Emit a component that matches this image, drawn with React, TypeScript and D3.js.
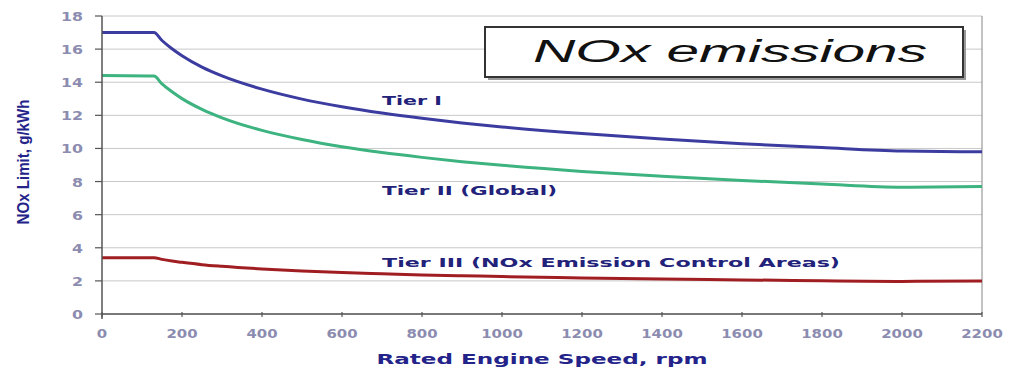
import React from "react";
import * as d3 from "d3";

const rpm = [0, 130, 150, 175, 200, 250, 300, 400, 500, 600, 700, 800, 900, 1000, 1200, 1400, 1600, 1800, 2000, 2200];
const tierI = [17.0, 17.0, 16.52, 16.02, 15.6, 14.91, 14.38, 13.58, 12.98, 12.52, 12.14, 11.82, 11.54, 11.3, 10.9, 10.57, 10.29, 10.05, 9.84, 9.8];
const tierII = [14.4, 14.37, 13.9, 13.42, 13.01, 12.36, 11.85, 11.09, 10.54, 10.1, 9.75, 9.46, 9.2, 8.98, 8.61, 8.32, 8.07, 7.85, 7.66, 7.7];
const tierIII = [3.4, 3.4, 3.3, 3.2, 3.12, 2.98, 2.88, 2.72, 2.6, 2.5, 2.43, 2.36, 2.31, 2.26, 2.18, 2.11, 2.06, 2.01, 1.97, 2.0];
const xTicks = [0, 200, 400, 600, 800, 1000, 1200, 1400, 1600, 1800, 2000, 2200];
const yTicks = [0, 2, 4, 6, 8, 10, 12, 14, 16, 18];
const seriesNames = ["Tier I", "Tier II (Global)", "Tier III (NOx Emission Control Areas)"];

export default function App() {
  const W = 1010, H = 368;
  const x = d3.scaleLinear().domain([0, 2200]).range([102, 982]);
  const y = d3.scaleLinear().domain([0, 18]).range([314, 16]);
  const line = d3.line<[number, number]>().x(d => x(d[0])).y(d => y(d[1])).curve(d3.curveMonotoneX);
  const series = [
    { vals: tierI, color: "#3c3ca0" },
    { vals: tierII, color: "#3db380" },
    { vals: tierIII, color: "#a01e22" },
  ];
  const labelPos = [
    { lx: 382, ly: 105, w: 60 },
    { lx: 382, ly: 195, w: 175 },
    { lx: 382, ly: 267, w: 458 },
  ];
  const tickColor = "#8c8cb0";
  return (
    <svg width={W} height={H} style={{ position: "absolute", left: 0, top: 0, background: "#fff" }}>
      <rect x={0} y={0} width={W} height={H} fill="#fff" />
      {yTicks.map(t => (
        <line key={"g" + t} x1={x(0)} x2={x(2200)} y1={y(t)} y2={y(t)} stroke="#c8c8c8" strokeWidth={1} />
      ))}
      <line x1={x(2200)} x2={x(2200)} y1={y(0)} y2={y(18)} stroke="#999" strokeWidth={1.2} />
      {series.map((s, i) => (
        <path key={i} d={line(rpm.map((r, j) => [r, s.vals[j]] as [number, number])) || ""} fill="none" stroke={s.color} strokeWidth={3} />
      ))}
      <line x1={x(0)} x2={x(0)} y1={y(0) + 5} y2={y(18)} stroke="#555" strokeWidth={1.5} />
      <line x1={x(0)} x2={x(2200)} y1={y(0)} y2={y(0)} stroke="#555" strokeWidth={1.5} />
      {yTicks.map(t => (
        <g key={"yt" + t}>
          <line x1={x(0) - 7} x2={x(0)} y1={y(t)} y2={y(t)} stroke="#555" strokeWidth={1.2} />
          <text x={83} y={y(t) + 5} textAnchor="end" fontFamily="DejaVu Sans" fontWeight="bold" fontSize={13}
            fill={tickColor} textLength={t >= 10 ? 22 : 11} lengthAdjust="spacingAndGlyphs">{t}</text>
        </g>
      ))}
      {xTicks.map(t => (
        <g key={"xt" + t}>
          <line x1={x(t)} x2={x(t)} y1={y(0) - 2} y2={y(0) + 3} stroke="#555" strokeWidth={1.2} />
          <text x={x(t)} y={338} textAnchor="middle" fontFamily="DejaVu Sans" fontWeight="bold" fontSize={13}
            fill={tickColor} textLength={String(t).length * 10.4} lengthAdjust="spacingAndGlyphs">{t}</text>
        </g>
      ))}
      <text x={x(1100)} y={364} textAnchor="middle" fontFamily="DejaVu Sans" fontWeight="bold" fontSize={14}
        fill="#23238a" textLength={331} lengthAdjust="spacingAndGlyphs">Rated Engine Speed, rpm</text>
      <text transform="translate(29,162) rotate(-90)" textAnchor="middle" fontFamily="Liberation Sans Narrow, Liberation Sans" fontWeight="bold" fontSize={17}
        fill="#23238a" textLength={125} lengthAdjust="spacingAndGlyphs">NOx Limit, g/kWh</text>
      {seriesNames.map((n, i) => (
        <text key={n} x={labelPos[i].lx} y={labelPos[i].ly} fontFamily="DejaVu Sans" fontWeight="bold" fontSize={13}
          fill="#22227a" textLength={labelPos[i].w} lengthAdjust="spacingAndGlyphs">{n}</text>
      ))}
      <rect x={488} y={30} width={478} height={50} fill="#999" />
      <rect x={485} y={27} width={478} height={50} fill="#fff" stroke="#333" strokeWidth={2} />
      <text x={730} y={62} textAnchor="middle" fontFamily="Liberation Sans" fontStyle="italic" fontSize={31}
        fill="#111" textLength={394} lengthAdjust="spacingAndGlyphs">NOx emissions</text>
    </svg>
  );
}
